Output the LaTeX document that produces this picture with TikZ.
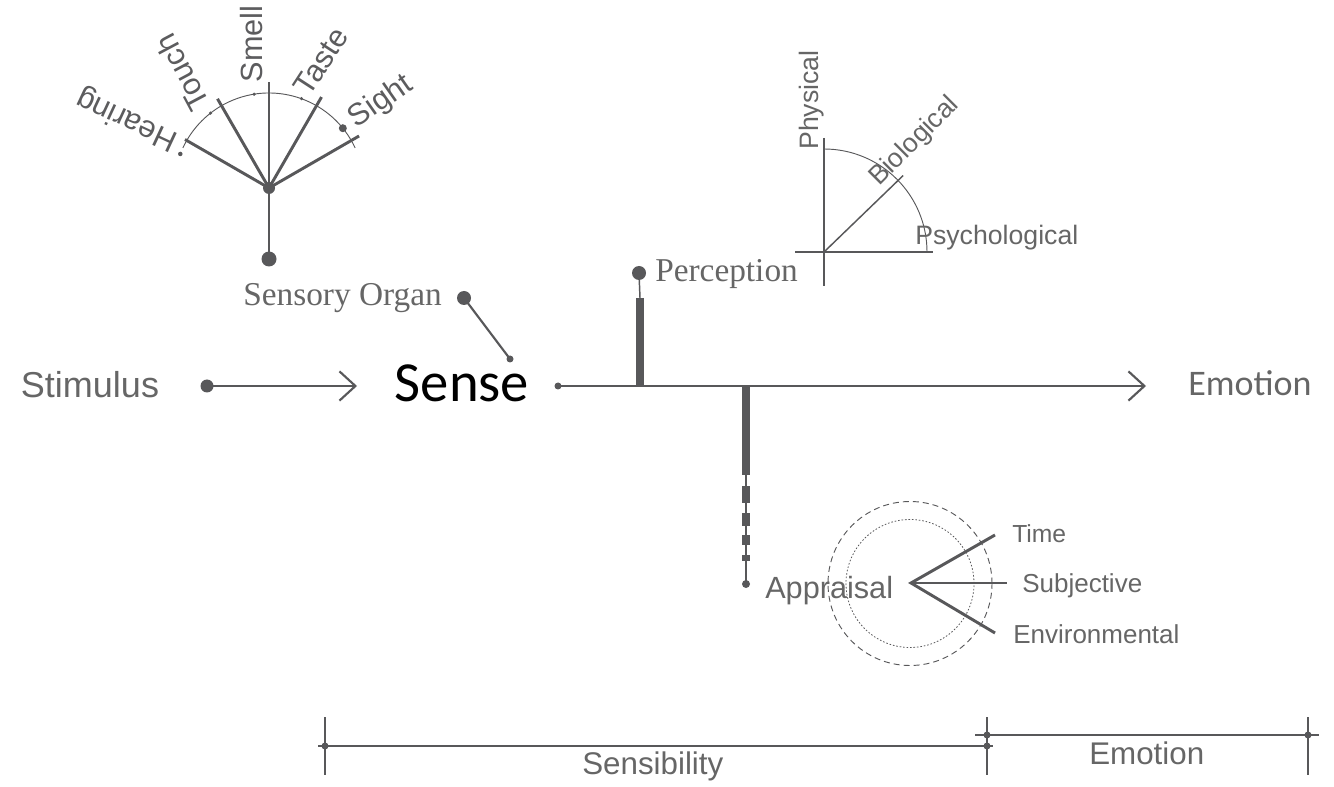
\documentclass[tikz,border=0pt]{standalone}
\usepackage{fontspec}
\setmainfont{Liberation Sans}
\newfontfamily\seriffont{Liberation Serif}
\newfontfamily\calfont{Carlito}
\usetikzlibrary{arrows.meta}
\definecolor{ink}{HTML}{58585A}
\definecolor{txt}{HTML}{666666}
\definecolor{fantxt}{HTML}{5C5C5E}

\begin{document}
\begin{tikzpicture}[x=0.75pt,y=-0.75pt,
  ln/.style={draw=ink,line width=2.2pt},
  midln/.style={draw=ink,line width=1.1pt},
  hair/.style={draw=ink,line width=0.7pt},
  dot/.style={circle,fill=ink,inner sep=0pt,minimum size=#1*0.75pt},
  lbl/.style={text=txt,inner sep=0pt,font=\fontsize{#1}{#1}\selectfont},
  seriflbl/.style={text=txt,inner sep=0pt,font=\seriffont\fontsize{#1}{#1}\selectfont},
  fanlbl/.style={text=fantxt,inner sep=0pt,font=\fontsize{23}{23}\selectfont},
  barb/.style={-{Straight Barb[length=12pt,width=22pt,line width=1.6pt]}},
]
\useasboundingbox (0,0) rectangle (1334,787);

% ---------- main flow ----------
\node[lbl=27,anchor=base] (stimulus) at (90,398) {Stimulus};
\node[dot=13] (stimdot) at (207,386) {};
\coordinate (stimtip) at (357,386);
\draw[ln,line width=1.7pt,barb] (stimdot.center) -- (stimtip);

\node[inner sep=0pt,anchor=base,font=\calfont\fontsize{42.5}{42.5}\selectfont] (sense) at (462,402) {Sense};
\node[dot=7] (sensedot) at (558,386) {};
\coordinate (maintip) at (1146,386);
\draw[ln,barb] (sensedot.center) -- (maintip);
\node[inner sep=0pt,anchor=base,text=txt,font=\calfont\fontsize{27}{27}\selectfont] (emotion) at (1250,396) {Emotion};

% ---------- sensory organ ----------
\node[seriflbl=25,anchor=base] (organ) at (342.5,306) {Sensory Organ};
\node[dot=14] (organdot) at (464,298) {};
\node[dot=7] (organend) at (510,359) {};
\draw[ln,line width=1.6pt] (organdot.center) -- (organend.center);

% ---------- senses fan ----------
\node[dot=12] (fc) at (269,188) {};
\node[dot=15] (fanroot) at (269,259) {};
\draw[ln] (fc.center) -- (fanroot.center);
\begin{scope}[shift={(269,188)},y=0.75pt]
  \draw[hair] (25:95) arc[start angle=25,end angle=155,radius=71.25pt];
  \coordinate (hearEnd) at (150:97);
  \coordinate (touchEnd) at (120:103);
  \coordinate (smellEnd) at (90:106);
  \coordinate (tasteEnd) at (60:105);
  \coordinate (sightEnd) at (30:104);
  \node[dot=4.5] (hearDot) at (159:95) {};
  \node[dot=3.5] (touchDot) at (128:95) {};
  \node[dot=3.5] (smellDot) at (99:95) {};
  \node[dot=3.5] (tasteDot) at (70:95) {};
  \node[dot=8] (sightDot) at (39:95) {};
\end{scope}
\foreach \e in {hearEnd,touchEnd,smellEnd,tasteEnd,sightEnd}
  \draw[ln] (fc.center) -- (\e);
\node[fanlbl,rotate=155] (hearing) at (127,119) {Hearing};
\node[fanlbl,rotate=118] (touch) at (182,73) {Touch};
\node[fanlbl,rotate=90] (smell) at (252,44) {Smell};
\node[fanlbl,rotate=57] (taste) at (321,61) {Taste};
\node[fanlbl,rotate=35] (sight) at (381,102) {Sight};

% ---------- perception ----------
\node[dot=14] (percdot) at (639,273) {};
\coordinate (percbar) at (640,298);
\coordinate (percbase) at (640,386);
\draw[midln] (percdot.center) -- (percbar);
\draw[draw=ink,line width=6pt] (percbar) -- (percbase);
\node[seriflbl=25,anchor=base west] (perception) at (655,282) {Perception};

% ---------- levels quadrant ----------
\coordinate (qo) at (824,252);
\begin{scope}[shift={(824,252)},y=0.75pt]
  \coordinate (qtop) at (0,114);
  \coordinate (qbot) at (0,-34);
  \coordinate (qleft) at (-29,0);
  \coordinate (qright) at (109,0);
  \coordinate (qdiag) at (44:110);
  \draw[hair] (0,103) arc[start angle=90,end angle=0,radius=77.25pt];
\end{scope}
\draw[midln,line width=1.3pt] (qtop) -- (qo);
\draw[hair,line width=0.9pt] (qo) -- (qbot);
\draw[midln] (qleft) -- (qright);
\draw[midln] (qo) -- (qdiag);
\node[lbl=20,rotate=90,anchor=base west] (physical) at (818.5,150) {Physical};
\node[lbl=20,rotate=45,anchor=base west] (biological) at (879,187) {Biological};
\node[lbl=20,anchor=base west] (psychological) at (915,245) {Psychological};

% ---------- appraisal ----------
\coordinate (aptop) at (746,386);
\coordinate (apmid) at (746,475);
\node[dot=8] (apdot) at (746,584) {};
\draw[draw=ink,line width=6pt] (aptop) -- (apmid);
\draw[midln,line width=1.5pt] (apmid) -- (apdot.center);
\foreach \ya/\yb in {486/503,513/526,535/545,555/561}
  \fill[ink] (742,\ya) rectangle (750,\yb);
\node[lbl=23,anchor=base west] (appraisal) at (765,598) {Appraisal};

\coordinate (ac) at (910,583.5);
\draw[hair,dash pattern=on 4.5pt off 3pt] (ac) circle[radius=61.5pt];
\draw[hair,line width=0.6pt,dash pattern=on 1.2pt off 1.4pt] (ac) circle[radius=48pt];
\coordinate (apv) at (911,583);
\coordinate (timeEnd) at (995,535);
\coordinate (subjEnd) at (1007,583);
\coordinate (envEnd) at (995,633);
\draw[ln] (timeEnd) -- (apv) -- (envEnd);
\draw[ln] (apv) -- (subjEnd);
\node[lbl=18.5,anchor=base west] (time) at (1012,542) {Time};
\node[lbl=19.5,anchor=base west] (subjective) at (1022,592) {Subjective};
\node[lbl=19.5,anchor=base west] (environmental) at (1013,643) {Environmental};

% ---------- span scale ----------
\node[dot=7] (sA) at (325,746) {};
\node[dot=7] (sB) at (987,746) {};
\node[dot=7] (eA) at (987,735) {};
\node[dot=7] (eB) at (1308,735) {};
\coordinate (sL) at (318,746);
\coordinate (sR) at (993,746);
\coordinate (eL) at (975,735);
\coordinate (eR) at (1319,735);
\draw[midln,line width=1.3pt] (sL) -- (sR);
\draw[midln,line width=1.3pt] (eL) -- (eR);
\foreach \x/\n in {325/t1,987/t2,1308/t3}{
  \coordinate (\n top) at (\x,717);
  \coordinate (\n bot) at (\x,775);
  \draw[midln,line width=1.8pt] (\n top) -- (\n bot);
}
\node[lbl=23.5,anchor=base west] (sensibility) at (582,774) {Sensibility};
\node[lbl=23.5,anchor=base west] (emospan) at (1089,764) {Emotion};
\end{tikzpicture}
\end{document}
